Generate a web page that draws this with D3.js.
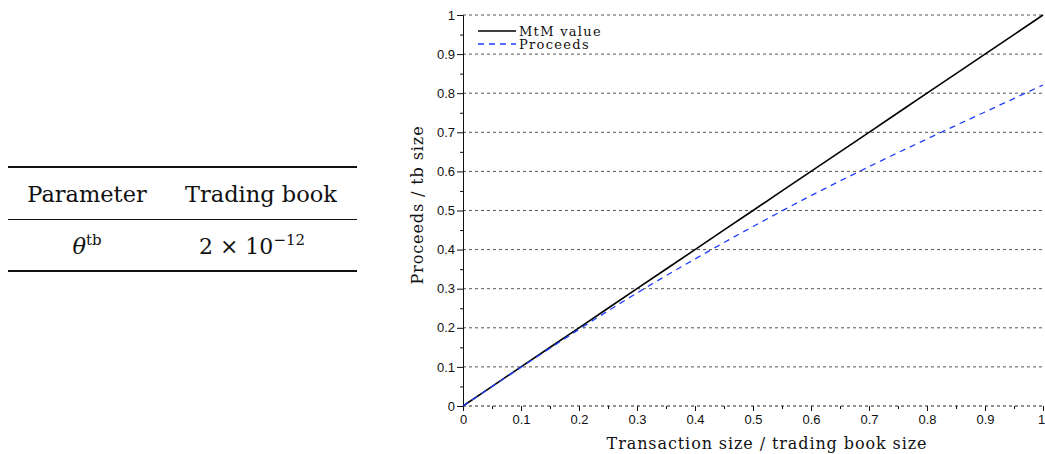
<!DOCTYPE html>
<html>
<head>
<meta charset="utf-8">
<script src="https://cdn.jsdelivr.net/npm/d3@7"></script>
<style>
  body { margin: 0; background: #fff; }
  svg { display: block; }
</style>
</head>
<body>
<svg id="chart" width="1045" height="454"></svg>
<script>
// Values
const xValues = [0, 0.1, 0.2, 0.3, 0.4, 0.5, 0.6, 0.7, 0.8, 0.9, 1.0];
const mtmValues = [0, 0.1, 0.2, 0.3, 0.4, 0.5, 0.6, 0.7, 0.8, 0.9, 1.0];
const proceedsValues = [0, 0.099, 0.196, 0.289, 0.376, 0.459, 0.538, 0.612, 0.683, 0.752, 0.821];
const tickValues = [0, 0.1, 0.2, 0.3, 0.4, 0.5, 0.6, 0.7, 0.8, 0.9, 1];
const minorTicks = [0.05, 0.15, 0.25, 0.35, 0.45, 0.55, 0.65, 0.75, 0.85, 0.95];
const seriesNames = ['MtM value', 'Proceeds'];
const tableHeader = ['Parameter', 'Trading book'];

const serif = 'DejaVu Serif, Liberation Serif, serif';
const svg = d3.select('#chart');

// Parameter table
const table = svg.append('g').style('font-family', serif).attr('fill', '#111');
table.append('line').attr('x1', 8).attr('x2', 357).attr('y1', 167).attr('y2', 167)
    .attr('stroke', '#111').attr('stroke-width', 2);
table.append('line').attr('x1', 8).attr('x2', 357).attr('y1', 219.5).attr('y2', 219.5)
    .attr('stroke', '#111').attr('stroke-width', 1);
table.append('line').attr('x1', 8).attr('x2', 357).attr('y1', 271).attr('y2', 271)
    .attr('stroke', '#111').attr('stroke-width', 2);
table.append('text').attr('x', 87).attr('y', 202).attr('text-anchor', 'middle')
    .style('font-size', '22.5px').text(tableHeader[0]);
table.append('text').attr('x', 261).attr('y', 202).attr('text-anchor', 'middle')
    .style('font-size', '22.5px').text(tableHeader[1]);
const th = table.append('text').attr('x', 87).attr('y', 254).attr('text-anchor', 'middle').style('font-size', '22.5px');
th.append('tspan').attr('font-style', 'italic').text('θ');
th.append('tspan').attr('dy', -9).style('font-size', '15px').text('tb');
const tv = table.append('text').attr('x', 252).attr('y', 254).attr('text-anchor', 'middle').style('font-size', '22px');
tv.append('tspan').text('2 × 10');
tv.append('tspan').attr('dy', -9).style('font-size', '15px').text('−12');

// Chart
const margin = { left: 463, top: 15 };
const innerW = 580;
const innerH = 391;

const g = svg.append('g').attr('transform', `translate(${margin.left},${margin.top})`);

const x = d3.scaleLinear().domain([0, 1]).range([0, innerW]);
const y = d3.scaleLinear().domain([0, 1]).range([innerH, 0]);

// Dashed gridlines
g.selectAll('.grid')
    .data(tickValues)
    .enter()
    .append('line')
    .attr('x1', 0).attr('x2', innerW)
    .attr('y1', d => y(d)).attr('y2', d => y(d))
    .attr('stroke', d => d === 0 ? '#222' : '#555')
    .attr('stroke-width', 1)
    .attr('stroke-dasharray', '3,3');

const fmt = d => d === 0 || d === 1 ? d3.format('d')(d) : d3.format('.1f')(d);

// Y axis
const yAxis = g.append('g')
    .call(d3.axisLeft(y).tickValues(tickValues).tickSize(6).tickFormat(fmt));
g.append('g')
    .call(d3.axisLeft(y).tickValues(minorTicks).tickSize(3).tickFormat(''))
    .select('.domain').remove();

// X axis
const xAxis = g.append('g')
    .attr('transform', `translate(0,${innerH})`)
    .call(d3.axisBottom(x).tickValues(tickValues).tickSize(5).tickFormat(fmt));
xAxis.select('.domain').remove();
g.append('g')
    .attr('transform', `translate(0,${innerH})`)
    .call(d3.axisBottom(x).tickValues(minorTicks).tickSize(3).tickFormat(''))
    .select('.domain').remove();

g.selectAll('.tick text')
    .attr('fill', '#111')
    .style('font-family', 'Liberation Sans, Arial, sans-serif')
    .style('font-size', '13px');
yAxis.selectAll('.tick text').attr('x', -8);
xAxis.selectAll('.tick text').attr('y', 9)
    .attr('dx', d => d === 1 ? -2 : 0);
g.selectAll('.domain, .tick line').attr('stroke', '#111');

// Lines
const line = d3.line().curve(d3.curveMonotoneX);
g.append('path')
    .attr('d', line(xValues.map((d, i) => [x(d), y(mtmValues[i])])))
    .attr('fill', 'none').attr('stroke', '#000').attr('stroke-width', 1.6);
g.append('path')
    .attr('d', line(xValues.map((d, i) => [x(d), y(proceedsValues[i])])))
    .attr('fill', 'none').attr('stroke', '#1f3fff').attr('stroke-width', 1.3)
    .attr('stroke-dasharray', '6,5');

// Legend
const legend = g.append('g').attr('transform', 'translate(15,16)');
const styles = [{ stroke: '#000', dash: null, w: 1.6 }, { stroke: '#1f3fff', dash: '6,5', w: 1.3 }];
seriesNames.forEach((name, i) => {
    const row = legend.append('g').attr('transform', `translate(0,${i * 13})`);
    row.append('line').attr('x1', 0).attr('x2', 38).attr('y1', 0).attr('y2', 0)
        .attr('stroke', styles[i].stroke).attr('stroke-width', styles[i].w)
        .attr('stroke-dasharray', styles[i].dash);
    row.append('text').attr('x', 41).attr('y', 4.5)
        .style('font-family', serif).style('font-size', '13px')
        .style('letter-spacing', '1.3px').attr('fill', '#111').text(name);
});

// Axis titles
svg.append('text').attr('x', 767).attr('y', 449).attr('text-anchor', 'middle')
    .style('font-family', serif).style('font-size', '16px')
    .style('letter-spacing', '0.9px').attr('fill', '#111')
    .text('Transaction size / trading book size');
svg.append('text').attr('transform', 'translate(423,205) rotate(-90)').attr('text-anchor', 'middle')
    .style('font-family', serif).style('font-size', '16px')
    .style('letter-spacing', '0.9px').attr('fill', '#111')
    .text('Proceeds / tb size');
</script>
</body>
</html>
